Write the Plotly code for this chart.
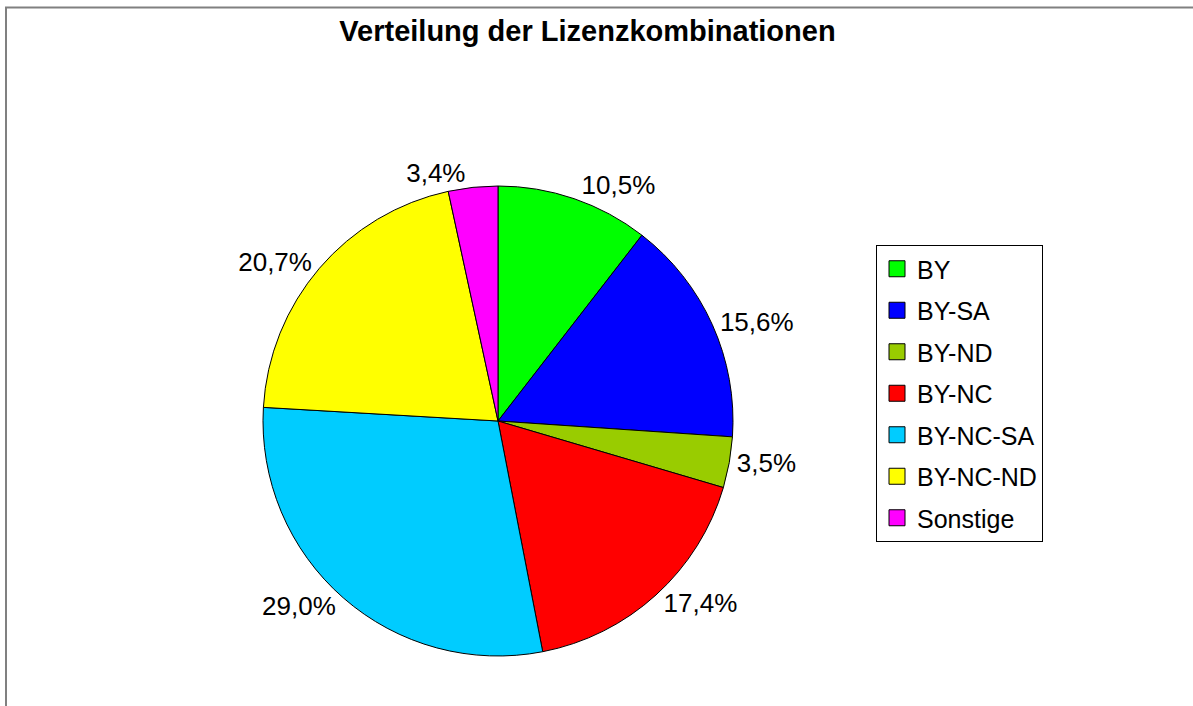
import plotly.graph_objects as go

categories = ["BY", "BY-SA", "BY-ND", "BY-NC", "BY-NC-SA", "BY-NC-ND", "Sonstige"]
shares = [10.5, 15.6, 3.5, 17.4, 29.0, 20.7, 3.4]
colors = ["#00FF00", "#0000FF", "#99CC00", "#FF0000", "#00CCFF", "#FFFF00", "#FF00FF"]
title_text = "Verteilung der Lizenzkombinationen"

W, H = 1193, 706
FONT = "Liberation Sans, Arial, sans-serif"

fig = go.Figure()
fig.add_trace(go.Pie(
    labels=categories,
    values=shares,
    marker=dict(colors=colors, line=dict(color="black", width=1)),
    sort=False,
    direction="clockwise",
    rotation=0,
    textposition="outside",
    texttemplate="%{value:.1f}%",
    outsidetextfont=dict(family=FONT, size=26, color="black"),
    showlegend=False,
    hoverinfo="label+value",
    domain=dict(x=[263 / W, 733 / W], y=[50 / H, 520 / H]),
))

# legend entries (one per category, styled like the pie slices)
for cat, col in zip(categories, colors):
    fig.add_trace(go.Scatter(
        x=[None], y=[None], mode="markers", name=cat, legendgroup=cat,
        marker=dict(symbol="square", size=16, color=col, line=dict(color="black", width=1)),
        hoverinfo="skip",
    ))

fig.update_layout(
    width=W, height=H,
    margin=dict(l=0, r=0, t=0, b=0),
    paper_bgcolor="white", plot_bgcolor="white",
    separators=",.",
    font=dict(family=FONT, size=26, color="black"),
    title=dict(text="<b>" + title_text + "</b>", x=587.5 / W, xanchor="center",
               y=1 - 31 / H, yanchor="middle",
               font=dict(family=FONT, size=29, color="black")),
    xaxis=dict(visible=False), yaxis=dict(visible=False),
    legend=dict(x=876 / W, xanchor="left", y=1 - 245 / H, yanchor="top",
                bordercolor="black", borderwidth=1, bgcolor="white",
                font=dict(family=FONT, size=25, color="black"),
                tracegroupgap=6, traceorder="grouped"),
    shapes=[dict(type="rect", xref="paper", yref="paper",
                 x0=6 / W, x1=1.02, y0=-0.02, y1=1 - 7.5 / H,
                 line=dict(color="#808080", width=2))],
)

fig.write_html("out.html", config={"displayModeBar": False},
               post_script="document.body.style.margin='0';document.body.style.overflow='hidden';")
